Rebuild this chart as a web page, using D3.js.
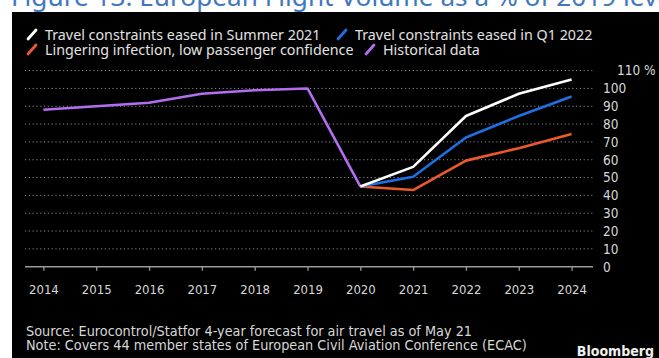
<!DOCTYPE html>
<html>
<head>
<meta charset="utf-8">
<script src="https://cdn.jsdelivr.net/npm/d3@7/dist/d3.min.js"></script>
<style>
  html, body { margin: 0; padding: 0; background: #fff; }
  svg { display: block; }
</style>
</head>
<body>
<svg id="chart" width="659" height="358"></svg>
<script>
// European flight volume, % of 2019 level
const years = [2014, 2015, 2016, 2017, 2018, 2019, 2020, 2021, 2022, 2023, 2024];
const historicalYears = [2014, 2015, 2016, 2017, 2018, 2019, 2020];
const historical = [88, 90, 92, 97, 99, 100, 45];
const forecastYears = [2020, 2021, 2022, 2023, 2024];
const summer2021 = [45, 56, 84.5, 97, 105];
const q12022 = [45, 50.5, 72.5, 84.5, 95.5];
const lingering = [45, 43, 59.5, 66.5, 74.5];
const yTicks = [0, 10, 20, 30, 40, 50, 60, 70, 80, 90, 100, 110];

const series = [
  { name: "Travel constraints eased in Summer 2021", x: forecastYears, y: summer2021, color: "#ffffff" },
  { name: "Travel constraints eased in Q1 2022", x: forecastYears, y: q12022, color: "#1f6fe5" },
  { name: "Lingering infection, low passenger confidence", x: forecastYears, y: lingering, color: "#ec5a2a" },
  { name: "Historical data", x: historicalYears, y: historical, color: "#b36ef0" }
];

const svg = d3.select("#chart");

// page heading, mostly clipped above the dark panel
svg.append("text")
  .attr("x", 11).attr("y", 6)
  .attr("font-family", "Noto Sans, Open Sans, sans-serif")
  .attr("font-size", 26.2)
  .attr("fill", "#3f78c0")
  .text("Figure 13: European Flight Volume as a % of 2019 levels");

// dark panel
svg.append("rect")
  .attr("x", 12).attr("y", 12).attr("width", 647).attr("height", 346)
  .attr("fill", "#000");

const x = d3.scaleLinear().domain([2014, 2024]).range([43.4, 571.6]);
const y = d3.scaleLinear().domain([0, 110]).range([266.7, 70.6]);
const plotLeft = 25, plotRight = 593;

// dotted gridlines
svg.append("g")
  .selectAll("line")
  .data(yTicks.filter(d => d > 0))
  .join("line")
  .attr("x1", plotLeft).attr("x2", plotRight)
  .attr("y1", d => y(d)).attr("y2", d => y(d))
  .attr("stroke", "#8a8a8a")
  .attr("stroke-width", 1)
  .attr("stroke-dasharray", "1.2,2.6");

// right-hand value axis
const yAxis = svg.append("g")
  .attr("transform", `translate(${plotRight},0)`)
  .call(d3.axisRight(y).tickValues(yTicks).tickSize(0).tickPadding(10)
    .tickFormat(d => d === 110 ? "110 %" : d));
yAxis.select(".domain").remove();
yAxis.selectAll("text")
  .attr("font-family", "DejaVu Sans Condensed, DejaVu Sans, sans-serif")
  .attr("font-size", 13.5)
  .attr("fill", "#d8d8d8");
yAxis.selectAll(".tick").filter(d => d === 110).select("text").attr("x", 24);

// bottom year axis
const xAxis = svg.append("g")
  .attr("transform", `translate(0,${y(0)})`)
  .call(d3.axisBottom(x).tickValues(years).tickFormat(d3.format("d")).tickSize(4).tickSizeOuter(0).tickPadding(14));
xAxis.select(".domain").remove();
xAxis.append("line")
  .attr("x1", plotLeft).attr("x2", plotRight)
  .attr("stroke", "#9a9a9a").attr("stroke-width", 1.5);
xAxis.selectAll(".tick line").attr("stroke", "#9a9a9a").attr("stroke-width", 1.3);
xAxis.selectAll("text")
  .attr("font-family", "DejaVu Sans Condensed, DejaVu Sans, sans-serif")
  .attr("font-size", 13)
  .attr("fill", "#d8d8d8");

// series lines
const line = d3.line()
  .x(d => x(d[0]))
  .y(d => y(d[1]));

svg.append("g")
  .selectAll("path")
  .data(series.slice().reverse())
  .join("path")
  .attr("d", s => line(s.x.map((yr, i) => [yr, s.y[i]])))
  .attr("fill", "none")
  .attr("stroke", s => s.color)
  .attr("stroke-width", 2.6)
  .attr("stroke-linejoin", "round");

// legend
const legendPos = [
  { x: 27, y: 40 }, { x: 337, y: 40 },
  { x: 27, y: 55 }, { x: 365, y: 55 }
];
const legend = svg.append("g")
  .selectAll("g")
  .data(series)
  .join("g")
  .attr("transform", (s, i) => `translate(${legendPos[i].x},${legendPos[i].y})`);
legend.append("line")
  .attr("x1", 1).attr("y1", -1).attr("x2", 9).attr("y2", -10)
  .attr("stroke", s => s.color)
  .attr("stroke-width", 2.8)
  .attr("stroke-linecap", "round");
legend.append("text")
  .attr("x", 18).attr("y", 0)
  .attr("font-family", "Noto Sans, Open Sans, sans-serif")
  .attr("font-size", 14.3)
  .attr("fill", "#e2e2e2")
  .text(s => s.name);

// footnotes
const notes = [
  "Source: Eurocontrol/Statfor 4-year forecast for air travel as of May 21",
  "Note: Covers 44 member states of European Civil Aviation Conference (ECAC)"
];
svg.append("g")
  .selectAll("text")
  .data(notes)
  .join("text")
  .attr("x", 26)
  .attr("y", (d, i) => 336 + i * 13.5)
  .attr("font-family", "DejaVu Sans Condensed, DejaVu Sans, sans-serif")
  .attr("font-size", 14.3)
  .attr("fill", "#d8d8d8")
  .text(d => d);

svg.append("text")
  .attr("x", 654).attr("y", 356)
  .attr("text-anchor", "end")
  .attr("font-family", "DejaVu Sans Condensed, DejaVu Sans, sans-serif")
  .attr("font-weight", "bold")
  .attr("font-size", 14)
  .attr("fill", "#f0f0f0")
  .text("Bloomberg");
</script>
</body>
</html>
